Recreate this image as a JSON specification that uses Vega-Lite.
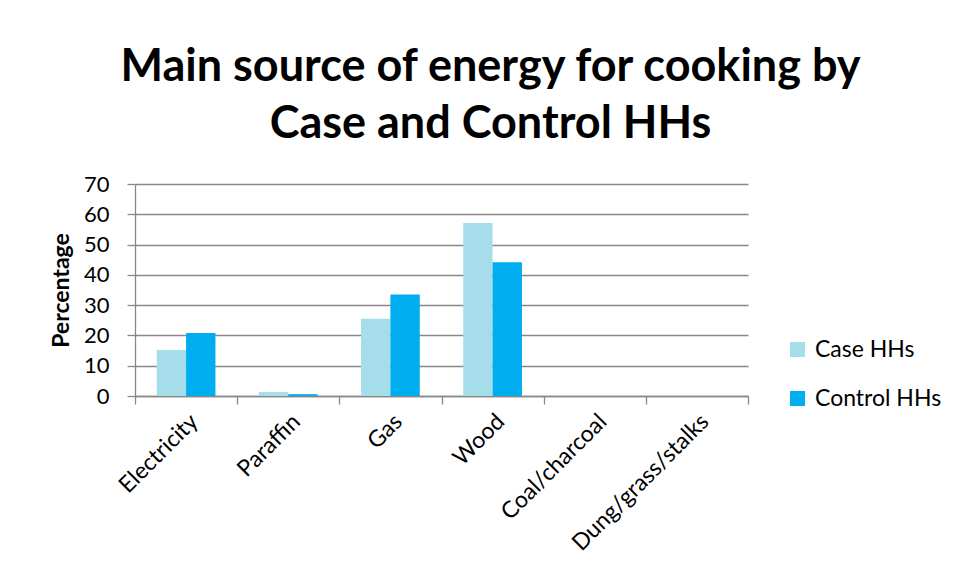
{
  "$schema": "https://vega.github.io/schema/vega-lite/v6.json",
  "width": 613,
  "height": 212,
  "autosize": "none",
  "padding": {"left": 135, "top": 184, "right": 207, "bottom": 184},
  "background": "white",
  "title": {
    "text": ["Main source of energy for cooking by", "Case and Control HHs"],
    "font": "Lato",
    "fontSize": 45,
    "fontWeight": "bold",
    "color": "#000000",
    "lineHeight": 57,
    "anchor": "middle",
    "frame": "group",
    "dx": 49,
    "offset": 26
  },
  "data": {
    "values": [
      {"source": "Electricity", "group": "Case HHs", "value": 15.2},
      {"source": "Electricity", "group": "Control HHs", "value": 20.8},
      {"source": "Paraffin", "group": "Case HHs", "value": 1.3},
      {"source": "Paraffin", "group": "Control HHs", "value": 0.6},
      {"source": "Gas", "group": "Case HHs", "value": 25.5},
      {"source": "Gas", "group": "Control HHs", "value": 33.5},
      {"source": "Wood", "group": "Case HHs", "value": 57.1},
      {"source": "Wood", "group": "Control HHs", "value": 44.2},
      {"source": "Coal/charcoal", "group": "Case HHs", "value": 0},
      {"source": "Coal/charcoal", "group": "Control HHs", "value": 0},
      {"source": "Dung/grass/stalks", "group": "Case HHs", "value": 0},
      {"source": "Dung/grass/stalks", "group": "Control HHs", "value": 0}
    ]
  },
  "mark": {"type": "bar"},
  "encoding": {
    "x": {
      "field": "source",
      "type": "nominal",
      "sort": ["Electricity", "Paraffin", "Gas", "Wood", "Coal/charcoal", "Dung/grass/stalks"],
      "scale": {"paddingInner": 0, "paddingOuter": 0},
      "axis": {
        "title": null,
        "labelAngle": -45,
        "labelFont": "Lato",
        "labelFontSize": 23,
        "labelColor": "#000000",
        "labelPadding": 6,
        "labelLimit": 0,
        "tickBand": "extent",
        "tickSize": 8,
        "tickColor": "#888888",
        "tickWidth": 1.3,
        "domainColor": "#888888",
        "domainWidth": 1.3,
        "grid": false
      }
    },
    "xOffset": {
      "field": "group",
      "type": "nominal",
      "scale": {"paddingInner": 0, "paddingOuter": 0.74}
    },
    "y": {
      "field": "value",
      "type": "quantitative",
      "scale": {"domain": [0, 70]},
      "axis": {
        "title": "Percentage",
        "titleFont": "Lato",
        "titleFontSize": 23,
        "titleFontWeight": "bold",
        "titleColor": "#000000",
        "titlePadding": 10,
        "values": [0, 10, 20, 30, 40, 50, 60, 70],
        "labelFont": "Lato",
        "labelFontSize": 22,
        "labelColor": "#000000",
        "labelPadding": 18,
        "tickSize": 8,
        "tickColor": "#888888",
        "tickWidth": 1.3,
        "domainColor": "#888888",
        "domainWidth": 1.3,
        "gridColor": "#888888",
        "gridWidth": 1.3
      }
    },
    "color": {
      "field": "group",
      "type": "nominal",
      "scale": {"domain": ["Case HHs", "Control HHs"], "range": ["#A5DEEA", "#00AEEF"]},
      "legend": {
        "title": null,
        "orient": "none",
        "legendX": 651,
        "legendY": 154,
        "symbolType": "square",
        "symbolSize": 225,
        "symbolStrokeWidth": 0,
        "labelFont": "Lato",
        "labelFontSize": 23,
        "labelColor": "#000000",
        "labelOffset": 6,
        "rowPadding": 25
      }
    }
  },
  "config": {
    "view": {"stroke": null}
  }
}
